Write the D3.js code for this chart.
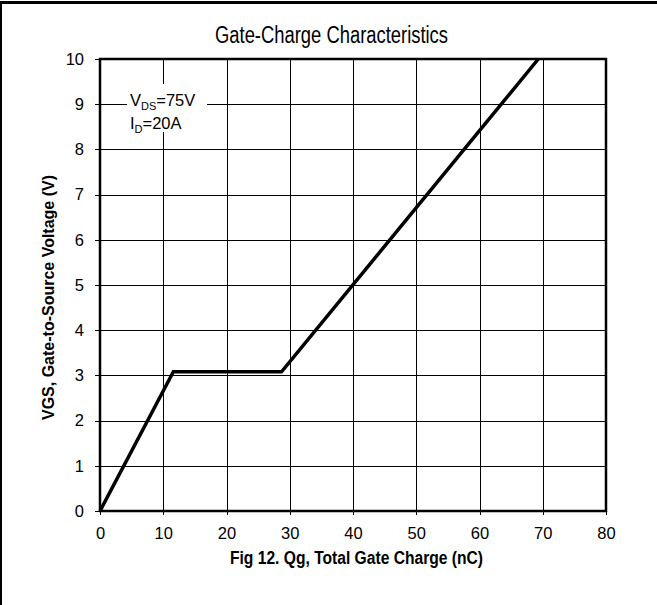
<!DOCTYPE html>
<html>
  <head>
    <meta charset="utf-8">
    <style>
      body { margin: 0; background: #fff; }
      text { font-family: "Liberation Sans", Arial, sans-serif; fill: #000; }
      .grid line { stroke: #000; stroke-width: 1; shape-rendering: crispEdges; }
    </style>
    <script src="https://cdnjs.cloudflare.com/ajax/libs/d3/7.8.5/d3.min.js"></script>
  </head>
  <body>
    <svg width="657" height="605" id="SVG"></svg>
    <script>
      // gate charge curve
      var qg = [0, 11.6, 28.7, 69.3];
      var vgs = [0, 3.08, 3.08, 10];
      var xTicks = [0, 10, 20, 30, 40, 50, 60, 70, 80];
      var yTicks = [0, 1, 2, 3, 4, 5, 6, 7, 8, 9, 10];

      var svg = d3.select("#SVG");
      var plotL = 100, plotR = 606, plotT = 59, plotB = 511;

      var x = d3.scaleLinear().domain([0, 80]).range([plotL, plotR]);
      var y = d3.scaleLinear().domain([0, 10]).range([plotB, plotT]);

      // page border (top and left only)
      svg.append("rect").attr("x", 0).attr("y", 1).attr("width", 657).attr("height", 3).attr("fill", "#000");
      svg.append("rect").attr("x", 0).attr("y", 1).attr("width", 2).attr("height", 604).attr("fill", "#000");

      svg.append("text")
         .attr("x", 215).attr("y", 43)
         .attr("textLength", 233).attr("lengthAdjust", "spacingAndGlyphs")
         .style("font-size", "23px")
         .text("Gate-Charge Characteristics");

      // grid
      var grid = svg.append("g").attr("class", "grid");
      grid.selectAll(".vx").data(xTicks).enter().append("line")
          .attr("x1", function(d) { return Math.round(x(d)) + 0.5 })
          .attr("x2", function(d) { return Math.round(x(d)) + 0.5 })
          .attr("y1", plotT).attr("y2", plotB + 4);
      grid.selectAll(".hy").data(yTicks).enter().append("line")
          .attr("x1", plotL - 5).attr("x2", plotR)
          .attr("y1", function(d) { return Math.round(y(d)) + 0.5 })
          .attr("y2", function(d) { return Math.round(y(d)) + 0.5 });

      // frame
      svg.append("rect")
         .attr("x", plotL).attr("y", plotT)
         .attr("width", plotR - plotL).attr("height", plotB - plotT)
         .attr("fill", "none").attr("stroke", "#000").attr("stroke-width", 2.5);

      // tick labels from d3 axes, axis lines removed (grid draws them)
      var xAxis = svg.append("g")
         .attr("transform", "translate(0," + plotB + ")")
         .call(d3.axisBottom(x).tickValues(xTicks).tickSize(0).tickPadding(16));
      var yAxis = svg.append("g")
         .attr("transform", "translate(" + plotL + ",0)")
         .call(d3.axisLeft(y).tickValues(yTicks).tickSize(0).tickPadding(16));
      [xAxis, yAxis].forEach(function(a) {
        a.select(".domain").remove();
        a.selectAll("text").attr("font-family", null).style("font-size", "16.5px").attr("fill", "#000");
      });

      // legend box
      svg.append("rect")
         .attr("x", 127).attr("y", 84).attr("width", 80).attr("height", 48)
         .attr("fill", "#fff");
      var l1 = svg.append("text").attr("x", 130).attr("y", 106).style("font-size", "16.5px");
      l1.append("tspan").text("V");
      l1.append("tspan").attr("dy", 4).style("font-size", "11px").text("DS");
      l1.append("tspan").attr("dy", -4).text("=75V");
      var l2 = svg.append("text").attr("x", 130).attr("y", 129).style("font-size", "16.5px");
      l2.append("tspan").text("I");
      l2.append("tspan").attr("dy", 4).style("font-size", "11px").text("D");
      l2.append("tspan").attr("dy", -4).text("=20A");

      // curve
      var pts = qg.map(function(d, i) { return [d, vgs[i]] });
      var line = d3.line().x(function(d) { return x(d[0]) }).y(function(d) { return y(d[1]) });
      svg.append("path")
         .datum(pts)
         .attr("d", line)
         .attr("fill", "none")
         .attr("stroke", "#000")
         .attr("stroke-width", 3.5)
         .attr("stroke-linejoin", "miter");

      svg.append("text")
         .attr("x", 230).attr("y", 564)
         .attr("textLength", 253).attr("lengthAdjust", "spacingAndGlyphs")
         .style("font-size", "18px").style("font-weight", "bold")
         .text("Fig 12. Qg, Total Gate Charge (nC)");

      svg.append("text")
         .attr("transform", "translate(54,420) rotate(-90)")
         .attr("textLength", 245).attr("lengthAdjust", "spacingAndGlyphs")
         .style("font-size", "17px").style("font-weight", "bold")
         .text("VGS, Gate-to-Source Voltage (V)");
    </script>
  </body>
</html>
